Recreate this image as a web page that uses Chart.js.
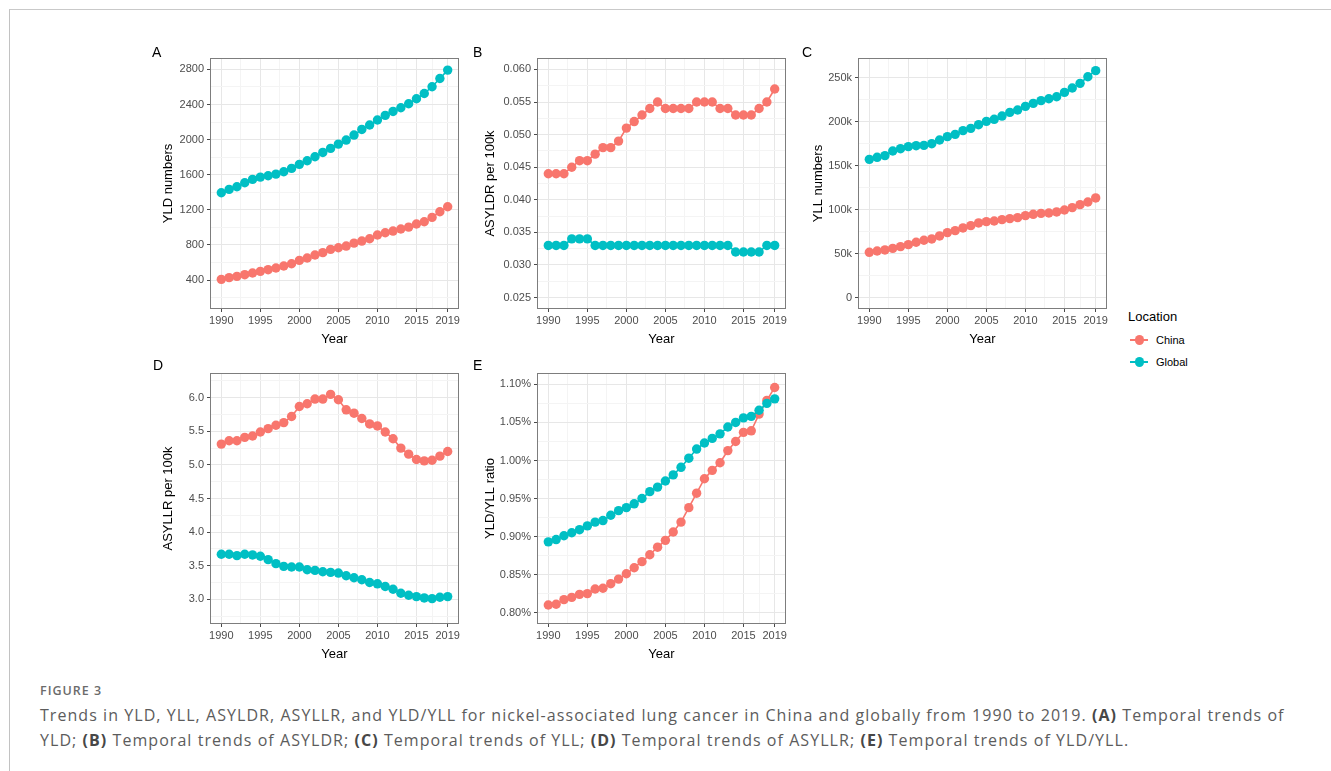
<!DOCTYPE html>
<html>
<head>
<meta charset="utf-8">
<script src="https://cdn.jsdelivr.net/npm/chart.js@4.4.1/dist/chart.umd.min.js"></script>
<style>
  html, body { margin: 0; padding: 0; background: #fff; }
  body { width: 1331px; height: 771px; position: relative; overflow: hidden; font-family: 'Liberation Sans', Arial, sans-serif; }
  .frame { position: absolute; left: 9px; top: 9px; width: 1330px; height: 770px; border-top: 1.5px solid #c9c9c9; border-left: 1.5px solid #c2c2c2; }
  canvas { position: absolute; }
  .tag { position: absolute; font-size: 14px; line-height: 14px; color: #000; }
  .legend { position: absolute; left: 1128px; top: 306px; color: #000; }
  .legend .ttl { position: absolute; left: 0; top: 3px; font-size: 13px; line-height: 16px; white-space: nowrap; }
  .legend .row { position: absolute; left: 2px; height: 14px; width: 80px; }
  .legend .ln { position: absolute; left: 0; top: 6px; width: 18px; height: 1.7px; }
  .legend .dot { position: absolute; left: 4.5px; top: 2.3px; width: 9.4px; height: 9.4px; border-radius: 50%; }
  .legend .lab { position: absolute; left: 26px; top: 0; font-size: 11px; line-height: 14px; }
  .fig { position: absolute; left: 40px; top: 684.6px; font-family: 'Open Sans', sans-serif; font-weight: 600; font-size: 12.5px; line-height: 12.5px; letter-spacing: 1px; color: #6b6b6b; }
  .cap { position: absolute; left: 40px; top: 703px; font-family: 'Open Sans', sans-serif; font-size: 16px; line-height: 25px; color: #5c5c5c; white-space: nowrap; }
  .cap b { color: #474747; font-weight: 700; }
</style>
</head>
<body>
<div class="frame"></div>

<canvas id="cA"></canvas>
<canvas id="cB"></canvas>
<canvas id="cC"></canvas>
<canvas id="cD"></canvas>
<canvas id="cE"></canvas>

<div class="tag" style="left:152px;top:45px">A</div>
<div class="tag" style="left:473px;top:45px">B</div>
<div class="tag" style="left:802px;top:45px">C</div>
<div class="tag" style="left:153px;top:358px">D</div>
<div class="tag" style="left:473px;top:358px">E</div>

<div class="legend">
  <div class="ttl">Location</div>
  <div class="row" style="top:27px"><div class="ln" style="background:#F8766D"></div><div class="dot" style="background:#F8766D"></div><div class="lab">China</div></div>
  <div class="row" style="top:49px"><div class="ln" style="background:#00BFC4"></div><div class="dot" style="background:#00BFC4"></div><div class="lab">Global</div></div>
</div>

<div class="fig">FIGURE 3</div>
<div class="cap" id="cap"><span id="cap1">Trends in YLD, YLL, ASYLDR, ASYLLR, and YLD/YLL for nickel-associated lung cancer in China and globally from 1990 to 2019. <b>(A)</b> Temporal trends of</span><br><span id="cap2">YLD; <b>(B)</b> Temporal trends of ASYLDR; <b>(C)</b> Temporal trends of YLL; <b>(D)</b> Temporal trends of ASYLLR; <b>(E)</b> Temporal trends of YLD/YLL.</span></div>

<script>
// ---- data -------------------------------------------------------------
const years = [1990,1991,1992,1993,1994,1995,1996,1997,1998,1999,2000,2001,2002,2003,2004,2005,2006,2007,2008,2009,2010,2011,2012,2013,2014,2015,2016,2017,2018,2019];

// YLD numbers
const yldChina  = [408,427,442,461,480,499,518,537,560,586,624,651,685,712,749,768,787,821,844,871,913,939,958,981,1003,1038,1064,1114,1178,1235];
const yldGlobal = [1395,1433,1463,1509,1547,1573,1588,1607,1634,1672,1718,1759,1805,1854,1900,1949,1995,2052,2116,2166,2223,2276,2321,2363,2409,2466,2526,2602,2697,2792];

// ASYLDR per 100k
const asyldrChina  = [0.044,0.044,0.044,0.045,0.046,0.046,0.047,0.048,0.048,0.049,0.051,0.052,0.053,0.054,0.055,0.054,0.054,0.054,0.054,0.055,0.055,0.055,0.054,0.054,0.053,0.053,0.053,0.054,0.055,0.057];
const asyldrGlobal = [0.033,0.033,0.033,0.034,0.034,0.034,0.033,0.033,0.033,0.033,0.033,0.033,0.033,0.033,0.033,0.033,0.033,0.033,0.033,0.033,0.033,0.033,0.033,0.033,0.032,0.032,0.032,0.032,0.033,0.033];

// YLL numbers
const yllChina  = [51500,53000,54200,56000,58000,60200,62900,65200,66700,70100,73900,76100,79200,81800,84900,86400,87100,88600,89800,90900,93200,94700,95800,96200,97400,99600,102300,105700,108700,113300];
const yllGlobal = [157200,159500,161400,166700,169300,171600,172700,173100,175000,179200,183000,185600,189800,192400,196600,200400,202700,206400,210600,213300,217400,220800,223900,226100,228400,233300,238300,243600,251100,258000];

// ASYLLR per 100k
const asyllrChina  = [5.31,5.36,5.36,5.41,5.43,5.49,5.54,5.59,5.63,5.72,5.87,5.91,5.98,5.98,6.05,5.97,5.82,5.77,5.69,5.61,5.58,5.49,5.39,5.25,5.16,5.08,5.06,5.07,5.13,5.20];
const asyllrGlobal = [3.67,3.67,3.65,3.67,3.66,3.64,3.59,3.53,3.49,3.48,3.48,3.44,3.43,3.41,3.40,3.39,3.35,3.32,3.29,3.25,3.23,3.19,3.15,3.09,3.06,3.04,3.02,3.01,3.03,3.04];

// YLD/YLL ratio (%)
const ratioChina  = [0.810,0.811,0.817,0.820,0.824,0.825,0.831,0.832,0.838,0.844,0.851,0.859,0.867,0.876,0.886,0.895,0.906,0.919,0.938,0.957,0.976,0.987,0.997,1.013,1.025,1.037,1.039,1.061,1.079,1.096];
const ratioGlobal = [0.893,0.896,0.901,0.905,0.909,0.914,0.919,0.921,0.928,0.934,0.938,0.943,0.950,0.959,0.965,0.973,0.981,0.991,1.003,1.015,1.023,1.029,1.035,1.044,1.050,1.056,1.058,1.066,1.075,1.081];

// ---- ticks ------------------------------------------------------------
const xMajor = [1990,1995,2000,2005,2010,2015,2019];
const xMinor = [1992.5,1997.5,2002.5,2007.5,2012.5,2017];

const yMajorA = [400,800,1200,1600,2000,2400,2800];
const yMinorA = [200,600,1000,1400,1800,2200,2600];
const yMajorB = [0.025,0.030,0.035,0.040,0.045,0.050,0.055,0.060];
const yMinorB = [0.0275,0.0325,0.0375,0.0425,0.0475,0.0525,0.0575];
const yMajorC = [0,50000,100000,150000,200000,250000];
const yMinorC = [25000,75000,125000,175000,225000];
const yMajorD = [3.0,3.5,4.0,4.5,5.0,5.5,6.0];
const yMinorD = [2.75,3.25,3.75,4.25,4.75,5.25,5.75,6.25];
const yMajorE = [0.80,0.85,0.90,0.95,1.00,1.05,1.10];
const yMinorE = [0.825,0.875,0.925,0.975,1.025,1.075];

// ---- styling ----------------------------------------------------------
const CHINA = '#F8766D';
const GLOBAL = '#00BFC4';
const FONT = "'Liberation Sans', Arial, sans-serif";
const TICK_TXT = '#4d4d4d';
const GRID_MAJOR = '#e7e7e7';
const GRID_MINOR = '#f4f4f4';

const isIn = (list, v) => list.some(t => Math.abs(t - v) < 1e-9);

// full rectangle around the plotting region
const panelFrame = {
  id: 'panelFrame',
  afterDatasetsDraw(chart) {
    const a = chart.chartArea, ctx = chart.ctx;
    ctx.save();
    ctx.strokeStyle = '#7d7d7d';
    ctx.lineWidth = 1;
    ctx.strokeRect(Math.round(a.left) + 0.5, Math.round(a.top) + 0.5,
                   Math.round(a.right - a.left) - 1, Math.round(a.bottom - a.top) - 1);
    ctx.restore();
  }
};

const PAD_TOP = 18, PAD_RIGHT = 12, Y_W = 60, X_H = 42;

function panel(id, p) {
  const plotW = p.right - p.left, plotH = p.bottom - p.top;
  const cv = document.getElementById(id);
  const w = Y_W + plotW + PAD_RIGHT, h = PAD_TOP + plotH + X_H;
  cv.width = w; cv.height = h;
  cv.style.width = w + 'px'; cv.style.height = h + 'px';
  cv.style.left = (p.left - Y_W) + 'px';
  cv.style.top = (p.top - PAD_TOP) + 'px';

  const series = (vals) => years.map((yr, i) => ({ x: yr, y: vals[i] }));
  const ds = (label, vals, col, order) => ({
    label, data: series(vals), order,
    borderColor: col, backgroundColor: col, borderWidth: 1.6,
    pointRadius: 4.7, pointBorderWidth: 0, pointBackgroundColor: col,
    pointHoverRadius: 4.7, tension: 0, clip: false
  });

  const gridOpts = (major) => ({
    color: c => isIn(major, c.tick.value) ? GRID_MAJOR : GRID_MINOR,
    lineWidth: 1,
    drawTicks: true,
    tickLength: 3,
    tickWidth: 1,
    tickColor: c => isIn(major, c.tick.value) ? '#4a4a4a' : 'rgba(0,0,0,0)'
  });

  new Chart(cv, {
    type: 'line',
    data: { datasets: [ ds('Global', p.global, GLOBAL, 0), ds('China', p.china, CHINA, 1) ] },
    plugins: [panelFrame],
    options: {
      responsive: false,
      animation: false,
      events: [],
      devicePixelRatio: 1,
      layout: { padding: { top: PAD_TOP, right: PAD_RIGHT, left: 0, bottom: 0 } },
      plugins: { legend: { display: false }, tooltip: { enabled: false } },
      scales: {
        x: {
          type: 'linear',
          min: 1988.55, max: 2020.45,
          afterBuildTicks: s => { s.ticks = xMajor.concat(xMinor).sort((a, b) => a - b).map(v => ({ value: v })); },
          afterFit: s => { s.height = X_H; },
          ticks: {
            autoSkip: false, maxRotation: 0, minRotation: 0, padding: 2,
            color: TICK_TXT, font: { family: FONT, size: 11 },
            callback: v => isIn(xMajor, v) ? String(v) : ''
          },
          grid: gridOpts(xMajor),
          border: { display: false },
          title: { display: true, text: 'Year', color: '#000', font: { family: FONT, size: 13 }, padding: { top: 0, bottom: 4.2 } }
        },
        y: {
          type: 'linear',
          min: p.min, max: p.max,
          afterBuildTicks: s => { s.ticks = p.major.concat(p.minor).sort((a, b) => a - b).map(v => ({ value: v })); },
          afterFit: s => { s.width = Y_W; },
          ticks: {
            autoSkip: false, padding: 3,
            color: TICK_TXT, font: { family: FONT, size: 11 },
            callback: v => isIn(p.major, v) ? p.fmt(v) : ''
          },
          grid: gridOpts(p.major),
          border: { display: false },
          title: { display: true, text: p.title, color: '#000', font: { family: FONT, size: 13 }, padding: { top: p.titlePad, bottom: 0 } }
        }
      }
    }
  });
}

panel('cA', { left: 210, top: 58, right: 459, bottom: 309, min: 70, max: 2930,
  major: yMajorA, minor: yMinorA, fmt: v => String(v), title: 'YLD numbers', titlePad: 10.2,
  china: yldChina, global: yldGlobal });

panel('cB', { left: 537, top: 58, right: 786, bottom: 309, min: 0.02325, max: 0.06175,
  major: yMajorB, minor: yMinorB, fmt: v => v.toFixed(3), title: 'ASYLDR per 100k', titlePad: 5.2,
  china: asyldrChina, global: asyldrGlobal });

panel('cC', { left: 858, top: 58, right: 1107, bottom: 309, min: -12950, max: 272400,
  major: yMajorC, minor: yMinorC, fmt: v => v === 0 ? '0' : (v / 1000) + 'k', title: 'YLL numbers', titlePad: 12.2,
  china: yllChina, global: yllGlobal });

panel('cD', { left: 210, top: 373, right: 459, bottom: 624, min: 2.632, max: 6.368,
  major: yMajorD, minor: yMinorD, fmt: v => v.toFixed(1), title: 'ASYLLR per 100k', titlePad: 10.2,
  china: asyllrChina, global: asyllrGlobal });

panel('cE', { left: 537, top: 373, right: 786, bottom: 624, min: 0.785, max: 1.115,
  major: yMajorE, minor: yMinorE, fmt: v => v.toFixed(2) + '%', title: 'YLD/YLL ratio', titlePad: 5.2,
  china: ratioChina, global: ratioGlobal });

// caption tracking: least-squares fit of both lines to their measures
(function fitCaption() {
  const cap = document.getElementById('cap');
  const l1 = document.getElementById('cap1'), l2 = document.getElementById('cap2');
  cap.style.letterSpacing = '0px';
  const w1 = l1.getBoundingClientRect().width, w2 = l2.getBoundingClientRect().width;
  const n1 = l1.textContent.length, n2 = l2.textContent.length;
  const T1 = 1262, T2 = 1069;
  const s = ((T1 - w1) * n1 + (T2 - w2) * n2) / (n1 * n1 + n2 * n2);
  cap.style.letterSpacing = s.toFixed(3) + 'px';
})();
</script>
</body>
</html>
